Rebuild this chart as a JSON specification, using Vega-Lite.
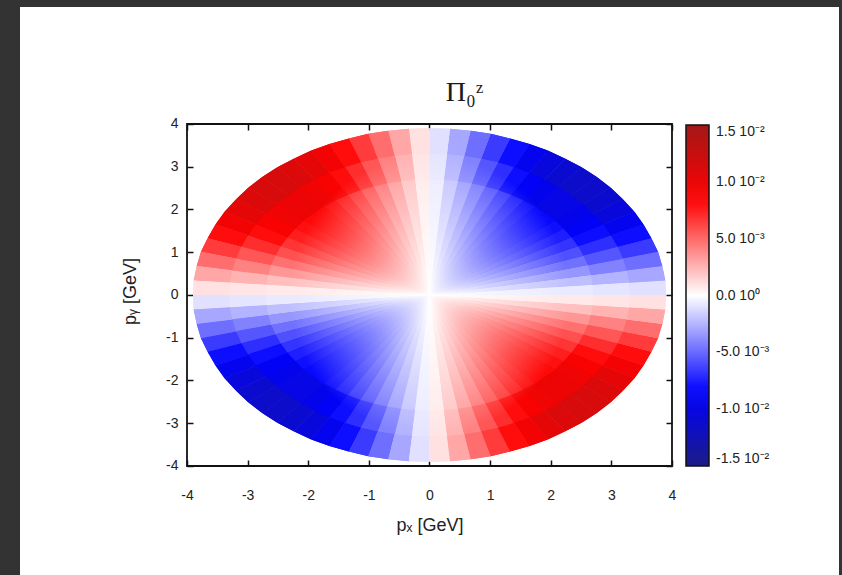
{
 "$schema": "https://vega.github.io/schema/vega-lite/v6.json",
 "width": 819, "height": 568,
 "autosize": {"type": "none"},
 "padding": {"left": 20, "top": 7, "right": 3, "bottom": 0},
 "background": "#333333",
 "config": {"view": {"fill": "white", "stroke": null}, "axis": {"grid": false}},
 "title": {"text": "Π₀ᶻ", "font": "Liberation Serif", "fontSize": 28, "fontWeight": "normal", "color": "#1a1a1a", "anchor": "middle", "frame": "group", "baseline": "alphabetic", "offset": -122, "dx": 35},
 "datasets": {
 "vals": [
{"w":0,"a":-0.00099,"b":-0.00086,"c":-0.00072},{"w":1,"a":-0.00295,"b":-0.00255,"c":-0.00214},{"w":2,"a":-0.00482,"b":-0.00416,"c":-0.0035},
{"w":3,"a":-0.00654,"b":-0.00564,"c":-0.00475},{"w":4,"a":-0.00806,"b":-0.00696,"c":-0.00585},{"w":5,"a":-0.00934,"b":-0.00806,"c":-0.00678},
{"w":6,"a":-0.01033,"b":-0.00892,"c":-0.0075},{"w":7,"a":-0.01101,"b":-0.0095,"c":-0.008},{"w":8,"a":-0.01136,"b":-0.0098,"c":-0.00825},
{"w":9,"a":-0.01136,"b":-0.0098,"c":-0.00825},{"w":10,"a":-0.01101,"b":-0.0095,"c":-0.008},{"w":11,"a":-0.01033,"b":-0.00892,"c":-0.0075},
{"w":12,"a":-0.00934,"b":-0.00806,"c":-0.00678},{"w":13,"a":-0.00806,"b":-0.00696,"c":-0.00585},{"w":14,"a":-0.00654,"b":-0.00564,"c":-0.00475},
{"w":15,"a":-0.00482,"b":-0.00416,"c":-0.0035},{"w":16,"a":-0.00295,"b":-0.00255,"c":-0.00214},{"w":17,"a":-0.00099,"b":-0.00086,"c":-0.00072},
{"w":18,"a":0.00099,"b":0.00086,"c":0.00072},{"w":19,"a":0.00295,"b":0.00255,"c":0.00214},{"w":20,"a":0.00482,"b":0.00416,"c":0.0035},
{"w":21,"a":0.00654,"b":0.00564,"c":0.00475},{"w":22,"a":0.00806,"b":0.00696,"c":0.00585},{"w":23,"a":0.00934,"b":0.00806,"c":0.00678},
{"w":24,"a":0.01033,"b":0.00892,"c":0.0075},{"w":25,"a":0.01101,"b":0.0095,"c":0.008},{"w":26,"a":0.01136,"b":0.0098,"c":0.00825},
{"w":27,"a":0.01136,"b":0.0098,"c":0.00825},{"w":28,"a":0.01101,"b":0.0095,"c":0.008},{"w":29,"a":0.01033,"b":0.00892,"c":0.0075},
{"w":30,"a":0.00934,"b":0.00806,"c":0.00678},{"w":31,"a":0.00806,"b":0.00696,"c":0.00585},{"w":32,"a":0.00654,"b":0.00564,"c":0.00475},
{"w":33,"a":0.00482,"b":0.00416,"c":0.0035},{"w":34,"a":0.00295,"b":0.00255,"c":0.00214},{"w":35,"a":0.00099,"b":0.00086,"c":0.00072},
{"w":36,"a":-0.00099,"b":-0.00086,"c":-0.00072},{"w":37,"a":-0.00295,"b":-0.00255,"c":-0.00214},{"w":38,"a":-0.00482,"b":-0.00416,"c":-0.0035},
{"w":39,"a":-0.00654,"b":-0.00564,"c":-0.00475},{"w":40,"a":-0.00806,"b":-0.00696,"c":-0.00585},{"w":41,"a":-0.00934,"b":-0.00806,"c":-0.00678},
{"w":42,"a":-0.01033,"b":-0.00892,"c":-0.0075},{"w":43,"a":-0.01101,"b":-0.0095,"c":-0.008},{"w":44,"a":-0.01136,"b":-0.0098,"c":-0.00825},
{"w":45,"a":-0.01136,"b":-0.0098,"c":-0.00825},{"w":46,"a":-0.01101,"b":-0.0095,"c":-0.008},{"w":47,"a":-0.01033,"b":-0.00892,"c":-0.0075},
{"w":48,"a":-0.00934,"b":-0.00806,"c":-0.00678},{"w":49,"a":-0.00806,"b":-0.00696,"c":-0.00585},{"w":50,"a":-0.00654,"b":-0.00564,"c":-0.00475},
{"w":51,"a":-0.00482,"b":-0.00416,"c":-0.0035},{"w":52,"a":-0.00295,"b":-0.00255,"c":-0.00214},{"w":53,"a":-0.00099,"b":-0.00086,"c":-0.00072},
{"w":54,"a":0.00099,"b":0.00086,"c":0.00072},{"w":55,"a":0.00295,"b":0.00255,"c":0.00214},{"w":56,"a":0.00482,"b":0.00416,"c":0.0035},
{"w":57,"a":0.00654,"b":0.00564,"c":0.00475},{"w":58,"a":0.00806,"b":0.00696,"c":0.00585},{"w":59,"a":0.00934,"b":0.00806,"c":0.00678},
{"w":60,"a":0.01033,"b":0.00892,"c":0.0075},{"w":61,"a":0.01101,"b":0.0095,"c":0.008},{"w":62,"a":0.01136,"b":0.0098,"c":0.00825},
{"w":63,"a":0.01136,"b":0.0098,"c":0.00825},{"w":64,"a":0.01101,"b":0.0095,"c":0.008},{"w":65,"a":0.01033,"b":0.00892,"c":0.0075},
{"w":66,"a":0.00934,"b":0.00806,"c":0.00678},{"w":67,"a":0.00806,"b":0.00696,"c":0.00585},{"w":68,"a":0.00654,"b":0.00564,"c":0.00475},
{"w":69,"a":0.00482,"b":0.00416,"c":0.0035},{"w":70,"a":0.00295,"b":0.00255,"c":0.00214},{"w":71,"a":0.00099,"b":0.00086,"c":0.00072}
 ],
 "verts": [
{"w":0,"L":0,"x":0,"y":0},{"w":1,"L":0,"x":0,"y":0},{"w":2,"L":0,"x":0,"y":0},{"w":3,"L":0,"x":0,"y":0},{"w":4,"L":0,"x":0,"y":0},{"w":5,"L":0,"x":0,"y":0},
{"w":6,"L":0,"x":0,"y":0},{"w":7,"L":0,"x":0,"y":0},{"w":8,"L":0,"x":0,"y":0},{"w":9,"L":0,"x":0,"y":0},{"w":10,"L":0,"x":0,"y":0},{"w":11,"L":0,"x":0,"y":0},
{"w":12,"L":0,"x":0,"y":0},{"w":13,"L":0,"x":0,"y":0},{"w":14,"L":0,"x":0,"y":0},{"w":15,"L":0,"x":0,"y":0},{"w":16,"L":0,"x":0,"y":0},{"w":17,"L":0,"x":0,"y":0},
{"w":18,"L":0,"x":0,"y":0},{"w":19,"L":0,"x":0,"y":0},{"w":20,"L":0,"x":0,"y":0},{"w":21,"L":0,"x":0,"y":0},{"w":22,"L":0,"x":0,"y":0},{"w":23,"L":0,"x":0,"y":0},
{"w":24,"L":0,"x":0,"y":0},{"w":25,"L":0,"x":0,"y":0},{"w":26,"L":0,"x":0,"y":0},{"w":27,"L":0,"x":0,"y":0},{"w":28,"L":0,"x":0,"y":0},{"w":29,"L":0,"x":0,"y":0},
{"w":30,"L":0,"x":0,"y":0},{"w":31,"L":0,"x":0,"y":0},{"w":32,"L":0,"x":0,"y":0},{"w":33,"L":0,"x":0,"y":0},{"w":34,"L":0,"x":0,"y":0},{"w":35,"L":0,"x":0,"y":0},
{"w":36,"L":0,"x":0,"y":0},{"w":37,"L":0,"x":0,"y":0},{"w":38,"L":0,"x":0,"y":0},{"w":39,"L":0,"x":0,"y":0},{"w":40,"L":0,"x":0,"y":0},{"w":41,"L":0,"x":0,"y":0},
{"w":42,"L":0,"x":0,"y":0},{"w":43,"L":0,"x":0,"y":0},{"w":44,"L":0,"x":0,"y":0},{"w":45,"L":0,"x":0,"y":0},{"w":46,"L":0,"x":0,"y":0},{"w":47,"L":0,"x":0,"y":0},
{"w":48,"L":0,"x":0,"y":0},{"w":49,"L":0,"x":0,"y":0},{"w":50,"L":0,"x":0,"y":0},{"w":51,"L":0,"x":0,"y":0},{"w":52,"L":0,"x":0,"y":0},{"w":53,"L":0,"x":0,"y":0},
{"w":54,"L":0,"x":0,"y":0},{"w":55,"L":0,"x":0,"y":0},{"w":56,"L":0,"x":0,"y":0},{"w":57,"L":0,"x":0,"y":0},{"w":58,"L":0,"x":0,"y":0},{"w":59,"L":0,"x":0,"y":0},
{"w":60,"L":0,"x":0,"y":0},{"w":61,"L":0,"x":0,"y":0},{"w":62,"L":0,"x":0,"y":0},{"w":63,"L":0,"x":0,"y":0},{"w":64,"L":0,"x":0,"y":0},{"w":65,"L":0,"x":0,"y":0},
{"w":66,"L":0,"x":0,"y":0},{"w":67,"L":0,"x":0,"y":0},{"w":68,"L":0,"x":0,"y":0},{"w":69,"L":0,"x":0,"y":0},{"w":70,"L":0,"x":0,"y":0},{"w":71,"L":0,"x":0,"y":0},
{"w":0,"L":1,"x":3.9,"y":0},{"w":0,"L":1,"x":3.89,"y":0.34},{"w":1,"L":1,"x":3.89,"y":0.34},{"w":1,"L":1,"x":3.84,"y":0.68},
{"w":2,"L":1,"x":3.84,"y":0.68},{"w":2,"L":1,"x":3.77,"y":1.01},{"w":3,"L":1,"x":3.77,"y":1.01},{"w":3,"L":1,"x":3.66,"y":1.33},
{"w":4,"L":1,"x":3.66,"y":1.33},{"w":4,"L":1,"x":3.53,"y":1.65},{"w":5,"L":1,"x":3.53,"y":1.65},{"w":5,"L":1,"x":3.38,"y":1.95},
{"w":6,"L":1,"x":3.38,"y":1.95},{"w":6,"L":1,"x":3.19,"y":2.24},{"w":7,"L":1,"x":3.19,"y":2.24},{"w":7,"L":1,"x":2.99,"y":2.51},
{"w":8,"L":1,"x":2.99,"y":2.51},{"w":8,"L":1,"x":2.76,"y":2.76},{"w":9,"L":1,"x":2.76,"y":2.76},{"w":9,"L":1,"x":2.51,"y":2.99},
{"w":10,"L":1,"x":2.51,"y":2.99},{"w":10,"L":1,"x":2.24,"y":3.19},{"w":11,"L":1,"x":2.24,"y":3.19},{"w":11,"L":1,"x":1.95,"y":3.38},
{"w":12,"L":1,"x":1.95,"y":3.38},{"w":12,"L":1,"x":1.65,"y":3.53},{"w":13,"L":1,"x":1.65,"y":3.53},{"w":13,"L":1,"x":1.33,"y":3.66},
{"w":14,"L":1,"x":1.33,"y":3.66},{"w":14,"L":1,"x":1.01,"y":3.77},{"w":15,"L":1,"x":1.01,"y":3.77},{"w":15,"L":1,"x":0.68,"y":3.84},
{"w":16,"L":1,"x":0.68,"y":3.84},{"w":16,"L":1,"x":0.34,"y":3.89},{"w":17,"L":1,"x":0.34,"y":3.89},{"w":17,"L":1,"x":0,"y":3.9},
{"w":18,"L":1,"x":0,"y":3.9},{"w":18,"L":1,"x":-0.34,"y":3.89},{"w":19,"L":1,"x":-0.34,"y":3.89},{"w":19,"L":1,"x":-0.68,"y":3.84},
{"w":20,"L":1,"x":-0.68,"y":3.84},{"w":20,"L":1,"x":-1.01,"y":3.77},{"w":21,"L":1,"x":-1.01,"y":3.77},{"w":21,"L":1,"x":-1.33,"y":3.66},
{"w":22,"L":1,"x":-1.33,"y":3.66},{"w":22,"L":1,"x":-1.65,"y":3.53},{"w":23,"L":1,"x":-1.65,"y":3.53},{"w":23,"L":1,"x":-1.95,"y":3.38},
{"w":24,"L":1,"x":-1.95,"y":3.38},{"w":24,"L":1,"x":-2.24,"y":3.19},{"w":25,"L":1,"x":-2.24,"y":3.19},{"w":25,"L":1,"x":-2.51,"y":2.99},
{"w":26,"L":1,"x":-2.51,"y":2.99},{"w":26,"L":1,"x":-2.76,"y":2.76},{"w":27,"L":1,"x":-2.76,"y":2.76},{"w":27,"L":1,"x":-2.99,"y":2.51},
{"w":28,"L":1,"x":-2.99,"y":2.51},{"w":28,"L":1,"x":-3.19,"y":2.24},{"w":29,"L":1,"x":-3.19,"y":2.24},{"w":29,"L":1,"x":-3.38,"y":1.95},
{"w":30,"L":1,"x":-3.38,"y":1.95},{"w":30,"L":1,"x":-3.53,"y":1.65},{"w":31,"L":1,"x":-3.53,"y":1.65},{"w":31,"L":1,"x":-3.66,"y":1.33},
{"w":32,"L":1,"x":-3.66,"y":1.33},{"w":32,"L":1,"x":-3.77,"y":1.01},{"w":33,"L":1,"x":-3.77,"y":1.01},{"w":33,"L":1,"x":-3.84,"y":0.68},
{"w":34,"L":1,"x":-3.84,"y":0.68},{"w":34,"L":1,"x":-3.89,"y":0.34},{"w":35,"L":1,"x":-3.89,"y":0.34},{"w":35,"L":1,"x":-3.9,"y":0},
{"w":36,"L":1,"x":-3.9,"y":0},{"w":36,"L":1,"x":-3.89,"y":-0.34},{"w":37,"L":1,"x":-3.89,"y":-0.34},{"w":37,"L":1,"x":-3.84,"y":-0.68},
{"w":38,"L":1,"x":-3.84,"y":-0.68},{"w":38,"L":1,"x":-3.77,"y":-1.01},{"w":39,"L":1,"x":-3.77,"y":-1.01},{"w":39,"L":1,"x":-3.66,"y":-1.33},
{"w":40,"L":1,"x":-3.66,"y":-1.33},{"w":40,"L":1,"x":-3.53,"y":-1.65},{"w":41,"L":1,"x":-3.53,"y":-1.65},{"w":41,"L":1,"x":-3.38,"y":-1.95},
{"w":42,"L":1,"x":-3.38,"y":-1.95},{"w":42,"L":1,"x":-3.19,"y":-2.24},{"w":43,"L":1,"x":-3.19,"y":-2.24},{"w":43,"L":1,"x":-2.99,"y":-2.51},
{"w":44,"L":1,"x":-2.99,"y":-2.51},{"w":44,"L":1,"x":-2.76,"y":-2.76},{"w":45,"L":1,"x":-2.76,"y":-2.76},{"w":45,"L":1,"x":-2.51,"y":-2.99},
{"w":46,"L":1,"x":-2.51,"y":-2.99},{"w":46,"L":1,"x":-2.24,"y":-3.19},{"w":47,"L":1,"x":-2.24,"y":-3.19},{"w":47,"L":1,"x":-1.95,"y":-3.38},
{"w":48,"L":1,"x":-1.95,"y":-3.38},{"w":48,"L":1,"x":-1.65,"y":-3.53},{"w":49,"L":1,"x":-1.65,"y":-3.53},{"w":49,"L":1,"x":-1.33,"y":-3.66},
{"w":50,"L":1,"x":-1.33,"y":-3.66},{"w":50,"L":1,"x":-1.01,"y":-3.77},{"w":51,"L":1,"x":-1.01,"y":-3.77},{"w":51,"L":1,"x":-0.68,"y":-3.84},
{"w":52,"L":1,"x":-0.68,"y":-3.84},{"w":52,"L":1,"x":-0.34,"y":-3.89},{"w":53,"L":1,"x":-0.34,"y":-3.89},{"w":53,"L":1,"x":0,"y":-3.9},
{"w":54,"L":1,"x":0,"y":-3.9},{"w":54,"L":1,"x":0.34,"y":-3.89},{"w":55,"L":1,"x":0.34,"y":-3.89},{"w":55,"L":1,"x":0.68,"y":-3.84},
{"w":56,"L":1,"x":0.68,"y":-3.84},{"w":56,"L":1,"x":1.01,"y":-3.77},{"w":57,"L":1,"x":1.01,"y":-3.77},{"w":57,"L":1,"x":1.33,"y":-3.66},
{"w":58,"L":1,"x":1.33,"y":-3.66},{"w":58,"L":1,"x":1.65,"y":-3.53},{"w":59,"L":1,"x":1.65,"y":-3.53},{"w":59,"L":1,"x":1.95,"y":-3.38},
{"w":60,"L":1,"x":1.95,"y":-3.38},{"w":60,"L":1,"x":2.24,"y":-3.19},{"w":61,"L":1,"x":2.24,"y":-3.19},{"w":61,"L":1,"x":2.51,"y":-2.99},
{"w":62,"L":1,"x":2.51,"y":-2.99},{"w":62,"L":1,"x":2.76,"y":-2.76},{"w":63,"L":1,"x":2.76,"y":-2.76},{"w":63,"L":1,"x":2.99,"y":-2.51},
{"w":64,"L":1,"x":2.99,"y":-2.51},{"w":64,"L":1,"x":3.19,"y":-2.24},{"w":65,"L":1,"x":3.19,"y":-2.24},{"w":65,"L":1,"x":3.38,"y":-1.95},
{"w":66,"L":1,"x":3.38,"y":-1.95},{"w":66,"L":1,"x":3.53,"y":-1.65},{"w":67,"L":1,"x":3.53,"y":-1.65},{"w":67,"L":1,"x":3.66,"y":-1.33},
{"w":68,"L":1,"x":3.66,"y":-1.33},{"w":68,"L":1,"x":3.77,"y":-1.01},{"w":69,"L":1,"x":3.77,"y":-1.01},{"w":69,"L":1,"x":3.84,"y":-0.68},
{"w":70,"L":1,"x":3.84,"y":-0.68},{"w":70,"L":1,"x":3.89,"y":-0.34},{"w":71,"L":1,"x":3.89,"y":-0.34},{"w":71,"L":1,"x":3.9,"y":0},
{"w":0,"L":2,"x":3.3,"y":0},{"w":0,"L":2,"x":3.29,"y":0.29},{"w":1,"L":2,"x":3.29,"y":0.29},{"w":1,"L":2,"x":3.25,"y":0.57},
{"w":2,"L":2,"x":3.25,"y":0.57},{"w":2,"L":2,"x":3.19,"y":0.85},{"w":3,"L":2,"x":3.19,"y":0.85},{"w":3,"L":2,"x":3.1,"y":1.13},
{"w":4,"L":2,"x":3.1,"y":1.13},{"w":4,"L":2,"x":2.99,"y":1.39},{"w":5,"L":2,"x":2.99,"y":1.39},{"w":5,"L":2,"x":2.86,"y":1.65},
{"w":6,"L":2,"x":2.86,"y":1.65},{"w":6,"L":2,"x":2.7,"y":1.89},{"w":7,"L":2,"x":2.7,"y":1.89},{"w":7,"L":2,"x":2.53,"y":2.12},
{"w":8,"L":2,"x":2.53,"y":2.12},{"w":8,"L":2,"x":2.33,"y":2.33},{"w":9,"L":2,"x":2.33,"y":2.33},{"w":9,"L":2,"x":2.12,"y":2.53},
{"w":10,"L":2,"x":2.12,"y":2.53},{"w":10,"L":2,"x":1.89,"y":2.7},{"w":11,"L":2,"x":1.89,"y":2.7},{"w":11,"L":2,"x":1.65,"y":2.86},
{"w":12,"L":2,"x":1.65,"y":2.86},{"w":12,"L":2,"x":1.39,"y":2.99},{"w":13,"L":2,"x":1.39,"y":2.99},{"w":13,"L":2,"x":1.13,"y":3.1},
{"w":14,"L":2,"x":1.13,"y":3.1},{"w":14,"L":2,"x":0.85,"y":3.19},{"w":15,"L":2,"x":0.85,"y":3.19},{"w":15,"L":2,"x":0.57,"y":3.25},
{"w":16,"L":2,"x":0.57,"y":3.25},{"w":16,"L":2,"x":0.29,"y":3.29},{"w":17,"L":2,"x":0.29,"y":3.29},{"w":17,"L":2,"x":0,"y":3.3},
{"w":18,"L":2,"x":0,"y":3.3},{"w":18,"L":2,"x":-0.29,"y":3.29},{"w":19,"L":2,"x":-0.29,"y":3.29},{"w":19,"L":2,"x":-0.57,"y":3.25},
{"w":20,"L":2,"x":-0.57,"y":3.25},{"w":20,"L":2,"x":-0.85,"y":3.19},{"w":21,"L":2,"x":-0.85,"y":3.19},{"w":21,"L":2,"x":-1.13,"y":3.1},
{"w":22,"L":2,"x":-1.13,"y":3.1},{"w":22,"L":2,"x":-1.39,"y":2.99},{"w":23,"L":2,"x":-1.39,"y":2.99},{"w":23,"L":2,"x":-1.65,"y":2.86},
{"w":24,"L":2,"x":-1.65,"y":2.86},{"w":24,"L":2,"x":-1.89,"y":2.7},{"w":25,"L":2,"x":-1.89,"y":2.7},{"w":25,"L":2,"x":-2.12,"y":2.53},
{"w":26,"L":2,"x":-2.12,"y":2.53},{"w":26,"L":2,"x":-2.33,"y":2.33},{"w":27,"L":2,"x":-2.33,"y":2.33},{"w":27,"L":2,"x":-2.53,"y":2.12},
{"w":28,"L":2,"x":-2.53,"y":2.12},{"w":28,"L":2,"x":-2.7,"y":1.89},{"w":29,"L":2,"x":-2.7,"y":1.89},{"w":29,"L":2,"x":-2.86,"y":1.65},
{"w":30,"L":2,"x":-2.86,"y":1.65},{"w":30,"L":2,"x":-2.99,"y":1.39},{"w":31,"L":2,"x":-2.99,"y":1.39},{"w":31,"L":2,"x":-3.1,"y":1.13},
{"w":32,"L":2,"x":-3.1,"y":1.13},{"w":32,"L":2,"x":-3.19,"y":0.85},{"w":33,"L":2,"x":-3.19,"y":0.85},{"w":33,"L":2,"x":-3.25,"y":0.57},
{"w":34,"L":2,"x":-3.25,"y":0.57},{"w":34,"L":2,"x":-3.29,"y":0.29},{"w":35,"L":2,"x":-3.29,"y":0.29},{"w":35,"L":2,"x":-3.3,"y":0},
{"w":36,"L":2,"x":-3.3,"y":0},{"w":36,"L":2,"x":-3.29,"y":-0.29},{"w":37,"L":2,"x":-3.29,"y":-0.29},{"w":37,"L":2,"x":-3.25,"y":-0.57},
{"w":38,"L":2,"x":-3.25,"y":-0.57},{"w":38,"L":2,"x":-3.19,"y":-0.85},{"w":39,"L":2,"x":-3.19,"y":-0.85},{"w":39,"L":2,"x":-3.1,"y":-1.13},
{"w":40,"L":2,"x":-3.1,"y":-1.13},{"w":40,"L":2,"x":-2.99,"y":-1.39},{"w":41,"L":2,"x":-2.99,"y":-1.39},{"w":41,"L":2,"x":-2.86,"y":-1.65},
{"w":42,"L":2,"x":-2.86,"y":-1.65},{"w":42,"L":2,"x":-2.7,"y":-1.89},{"w":43,"L":2,"x":-2.7,"y":-1.89},{"w":43,"L":2,"x":-2.53,"y":-2.12},
{"w":44,"L":2,"x":-2.53,"y":-2.12},{"w":44,"L":2,"x":-2.33,"y":-2.33},{"w":45,"L":2,"x":-2.33,"y":-2.33},{"w":45,"L":2,"x":-2.12,"y":-2.53},
{"w":46,"L":2,"x":-2.12,"y":-2.53},{"w":46,"L":2,"x":-1.89,"y":-2.7},{"w":47,"L":2,"x":-1.89,"y":-2.7},{"w":47,"L":2,"x":-1.65,"y":-2.86},
{"w":48,"L":2,"x":-1.65,"y":-2.86},{"w":48,"L":2,"x":-1.39,"y":-2.99},{"w":49,"L":2,"x":-1.39,"y":-2.99},{"w":49,"L":2,"x":-1.13,"y":-3.1},
{"w":50,"L":2,"x":-1.13,"y":-3.1},{"w":50,"L":2,"x":-0.85,"y":-3.19},{"w":51,"L":2,"x":-0.85,"y":-3.19},{"w":51,"L":2,"x":-0.57,"y":-3.25},
{"w":52,"L":2,"x":-0.57,"y":-3.25},{"w":52,"L":2,"x":-0.29,"y":-3.29},{"w":53,"L":2,"x":-0.29,"y":-3.29},{"w":53,"L":2,"x":0,"y":-3.3},
{"w":54,"L":2,"x":0,"y":-3.3},{"w":54,"L":2,"x":0.29,"y":-3.29},{"w":55,"L":2,"x":0.29,"y":-3.29},{"w":55,"L":2,"x":0.57,"y":-3.25},
{"w":56,"L":2,"x":0.57,"y":-3.25},{"w":56,"L":2,"x":0.85,"y":-3.19},{"w":57,"L":2,"x":0.85,"y":-3.19},{"w":57,"L":2,"x":1.13,"y":-3.1},
{"w":58,"L":2,"x":1.13,"y":-3.1},{"w":58,"L":2,"x":1.39,"y":-2.99},{"w":59,"L":2,"x":1.39,"y":-2.99},{"w":59,"L":2,"x":1.65,"y":-2.86},
{"w":60,"L":2,"x":1.65,"y":-2.86},{"w":60,"L":2,"x":1.89,"y":-2.7},{"w":61,"L":2,"x":1.89,"y":-2.7},{"w":61,"L":2,"x":2.12,"y":-2.53},
{"w":62,"L":2,"x":2.12,"y":-2.53},{"w":62,"L":2,"x":2.33,"y":-2.33},{"w":63,"L":2,"x":2.33,"y":-2.33},{"w":63,"L":2,"x":2.53,"y":-2.12},
{"w":64,"L":2,"x":2.53,"y":-2.12},{"w":64,"L":2,"x":2.7,"y":-1.89},{"w":65,"L":2,"x":2.7,"y":-1.89},{"w":65,"L":2,"x":2.86,"y":-1.65},
{"w":66,"L":2,"x":2.86,"y":-1.65},{"w":66,"L":2,"x":2.99,"y":-1.39},{"w":67,"L":2,"x":2.99,"y":-1.39},{"w":67,"L":2,"x":3.1,"y":-1.13},
{"w":68,"L":2,"x":3.1,"y":-1.13},{"w":68,"L":2,"x":3.19,"y":-0.85},{"w":69,"L":2,"x":3.19,"y":-0.85},{"w":69,"L":2,"x":3.25,"y":-0.57},
{"w":70,"L":2,"x":3.25,"y":-0.57},{"w":70,"L":2,"x":3.29,"y":-0.29},{"w":71,"L":2,"x":3.29,"y":-0.29},{"w":71,"L":2,"x":3.3,"y":0},
{"w":0,"L":3,"x":2.7,"y":0},{"w":0,"L":3,"x":2.69,"y":0.24},{"w":1,"L":3,"x":2.69,"y":0.24},{"w":1,"L":3,"x":2.66,"y":0.47},
{"w":2,"L":3,"x":2.66,"y":0.47},{"w":2,"L":3,"x":2.61,"y":0.7},{"w":3,"L":3,"x":2.61,"y":0.7},{"w":3,"L":3,"x":2.54,"y":0.92},
{"w":4,"L":3,"x":2.54,"y":0.92},{"w":4,"L":3,"x":2.45,"y":1.14},{"w":5,"L":3,"x":2.45,"y":1.14},{"w":5,"L":3,"x":2.34,"y":1.35},
{"w":6,"L":3,"x":2.34,"y":1.35},{"w":6,"L":3,"x":2.21,"y":1.55},{"w":7,"L":3,"x":2.21,"y":1.55},{"w":7,"L":3,"x":2.07,"y":1.74},
{"w":8,"L":3,"x":2.07,"y":1.74},{"w":8,"L":3,"x":1.91,"y":1.91},{"w":9,"L":3,"x":1.91,"y":1.91},{"w":9,"L":3,"x":1.74,"y":2.07},
{"w":10,"L":3,"x":1.74,"y":2.07},{"w":10,"L":3,"x":1.55,"y":2.21},{"w":11,"L":3,"x":1.55,"y":2.21},{"w":11,"L":3,"x":1.35,"y":2.34},
{"w":12,"L":3,"x":1.35,"y":2.34},{"w":12,"L":3,"x":1.14,"y":2.45},{"w":13,"L":3,"x":1.14,"y":2.45},{"w":13,"L":3,"x":0.92,"y":2.54},
{"w":14,"L":3,"x":0.92,"y":2.54},{"w":14,"L":3,"x":0.7,"y":2.61},{"w":15,"L":3,"x":0.7,"y":2.61},{"w":15,"L":3,"x":0.47,"y":2.66},
{"w":16,"L":3,"x":0.47,"y":2.66},{"w":16,"L":3,"x":0.24,"y":2.69},{"w":17,"L":3,"x":0.24,"y":2.69},{"w":17,"L":3,"x":0,"y":2.7},
{"w":18,"L":3,"x":0,"y":2.7},{"w":18,"L":3,"x":-0.24,"y":2.69},{"w":19,"L":3,"x":-0.24,"y":2.69},{"w":19,"L":3,"x":-0.47,"y":2.66},
{"w":20,"L":3,"x":-0.47,"y":2.66},{"w":20,"L":3,"x":-0.7,"y":2.61},{"w":21,"L":3,"x":-0.7,"y":2.61},{"w":21,"L":3,"x":-0.92,"y":2.54},
{"w":22,"L":3,"x":-0.92,"y":2.54},{"w":22,"L":3,"x":-1.14,"y":2.45},{"w":23,"L":3,"x":-1.14,"y":2.45},{"w":23,"L":3,"x":-1.35,"y":2.34},
{"w":24,"L":3,"x":-1.35,"y":2.34},{"w":24,"L":3,"x":-1.55,"y":2.21},{"w":25,"L":3,"x":-1.55,"y":2.21},{"w":25,"L":3,"x":-1.74,"y":2.07},
{"w":26,"L":3,"x":-1.74,"y":2.07},{"w":26,"L":3,"x":-1.91,"y":1.91},{"w":27,"L":3,"x":-1.91,"y":1.91},{"w":27,"L":3,"x":-2.07,"y":1.74},
{"w":28,"L":3,"x":-2.07,"y":1.74},{"w":28,"L":3,"x":-2.21,"y":1.55},{"w":29,"L":3,"x":-2.21,"y":1.55},{"w":29,"L":3,"x":-2.34,"y":1.35},
{"w":30,"L":3,"x":-2.34,"y":1.35},{"w":30,"L":3,"x":-2.45,"y":1.14},{"w":31,"L":3,"x":-2.45,"y":1.14},{"w":31,"L":3,"x":-2.54,"y":0.92},
{"w":32,"L":3,"x":-2.54,"y":0.92},{"w":32,"L":3,"x":-2.61,"y":0.7},{"w":33,"L":3,"x":-2.61,"y":0.7},{"w":33,"L":3,"x":-2.66,"y":0.47},
{"w":34,"L":3,"x":-2.66,"y":0.47},{"w":34,"L":3,"x":-2.69,"y":0.24},{"w":35,"L":3,"x":-2.69,"y":0.24},{"w":35,"L":3,"x":-2.7,"y":0},
{"w":36,"L":3,"x":-2.7,"y":0},{"w":36,"L":3,"x":-2.69,"y":-0.24},{"w":37,"L":3,"x":-2.69,"y":-0.24},{"w":37,"L":3,"x":-2.66,"y":-0.47},
{"w":38,"L":3,"x":-2.66,"y":-0.47},{"w":38,"L":3,"x":-2.61,"y":-0.7},{"w":39,"L":3,"x":-2.61,"y":-0.7},{"w":39,"L":3,"x":-2.54,"y":-0.92},
{"w":40,"L":3,"x":-2.54,"y":-0.92},{"w":40,"L":3,"x":-2.45,"y":-1.14},{"w":41,"L":3,"x":-2.45,"y":-1.14},{"w":41,"L":3,"x":-2.34,"y":-1.35},
{"w":42,"L":3,"x":-2.34,"y":-1.35},{"w":42,"L":3,"x":-2.21,"y":-1.55},{"w":43,"L":3,"x":-2.21,"y":-1.55},{"w":43,"L":3,"x":-2.07,"y":-1.74},
{"w":44,"L":3,"x":-2.07,"y":-1.74},{"w":44,"L":3,"x":-1.91,"y":-1.91},{"w":45,"L":3,"x":-1.91,"y":-1.91},{"w":45,"L":3,"x":-1.74,"y":-2.07},
{"w":46,"L":3,"x":-1.74,"y":-2.07},{"w":46,"L":3,"x":-1.55,"y":-2.21},{"w":47,"L":3,"x":-1.55,"y":-2.21},{"w":47,"L":3,"x":-1.35,"y":-2.34},
{"w":48,"L":3,"x":-1.35,"y":-2.34},{"w":48,"L":3,"x":-1.14,"y":-2.45},{"w":49,"L":3,"x":-1.14,"y":-2.45},{"w":49,"L":3,"x":-0.92,"y":-2.54},
{"w":50,"L":3,"x":-0.92,"y":-2.54},{"w":50,"L":3,"x":-0.7,"y":-2.61},{"w":51,"L":3,"x":-0.7,"y":-2.61},{"w":51,"L":3,"x":-0.47,"y":-2.66},
{"w":52,"L":3,"x":-0.47,"y":-2.66},{"w":52,"L":3,"x":-0.24,"y":-2.69},{"w":53,"L":3,"x":-0.24,"y":-2.69},{"w":53,"L":3,"x":0,"y":-2.7},
{"w":54,"L":3,"x":0,"y":-2.7},{"w":54,"L":3,"x":0.24,"y":-2.69},{"w":55,"L":3,"x":0.24,"y":-2.69},{"w":55,"L":3,"x":0.47,"y":-2.66},
{"w":56,"L":3,"x":0.47,"y":-2.66},{"w":56,"L":3,"x":0.7,"y":-2.61},{"w":57,"L":3,"x":0.7,"y":-2.61},{"w":57,"L":3,"x":0.92,"y":-2.54},
{"w":58,"L":3,"x":0.92,"y":-2.54},{"w":58,"L":3,"x":1.14,"y":-2.45},{"w":59,"L":3,"x":1.14,"y":-2.45},{"w":59,"L":3,"x":1.35,"y":-2.34},
{"w":60,"L":3,"x":1.35,"y":-2.34},{"w":60,"L":3,"x":1.55,"y":-2.21},{"w":61,"L":3,"x":1.55,"y":-2.21},{"w":61,"L":3,"x":1.74,"y":-2.07},
{"w":62,"L":3,"x":1.74,"y":-2.07},{"w":62,"L":3,"x":1.91,"y":-1.91},{"w":63,"L":3,"x":1.91,"y":-1.91},{"w":63,"L":3,"x":2.07,"y":-1.74},
{"w":64,"L":3,"x":2.07,"y":-1.74},{"w":64,"L":3,"x":2.21,"y":-1.55},{"w":65,"L":3,"x":2.21,"y":-1.55},{"w":65,"L":3,"x":2.34,"y":-1.35},
{"w":66,"L":3,"x":2.34,"y":-1.35},{"w":66,"L":3,"x":2.45,"y":-1.14},{"w":67,"L":3,"x":2.45,"y":-1.14},{"w":67,"L":3,"x":2.54,"y":-0.92},
{"w":68,"L":3,"x":2.54,"y":-0.92},{"w":68,"L":3,"x":2.61,"y":-0.7},{"w":69,"L":3,"x":2.61,"y":-0.7},{"w":69,"L":3,"x":2.66,"y":-0.47},
{"w":70,"L":3,"x":2.66,"y":-0.47},{"w":70,"L":3,"x":2.69,"y":-0.24},{"w":71,"L":3,"x":2.69,"y":-0.24},{"w":71,"L":3,"x":2.7,"y":0}
 ]},
 "layer": [
  {
   "data": {"name": "verts"},
   "transform": [{"filter": {"field": "L", "oneOf": [0, 1]}}, {"lookup": "w", "from": {"data": {"name": "vals"}, "key": "w", "fields": ["a"]}, "as": ["v"]}],
   "mark": {"type": "line", "filled": true, "interpolate": "linear-closed"},
   "encoding": {
    "x": {"field": "x", "type": "quantitative", "scale": {"domain": [-6.7546, 6.7547], "nice": false, "zero": false},
          "axis": {"orient": "bottom", "offset": -109, "values": [-4,-3,-2,-1,0,1,2,3,4], "domain": false, "grid": false, "tickSize": -6, "tickColor": "#111111", "tickWidth": 1.5, "labelPadding": 28, "labelFlush": false, "labelOverlap": false, "labelExpr": "'' + datum.value", "labelFont": "Liberation Sans", "labelFontSize": 14, "labelColor": "#222222", "title": "pₓ [GeV]", "titleFont": "Liberation Sans", "titleFontSize": 18, "titleFontWeight": "normal", "titleColor": "#222222", "titlePadding": 14}},
    "y": {"field": "y", "type": "quantitative", "scale": {"domain": [-6.5497, 6.7368], "nice": false, "zero": false},
          "axis": {"orient": "left", "offset": -167, "values": [-4,-3,-2,-1,0,1,2,3,4], "domain": false, "grid": false, "tickSize": -6, "tickColor": "#111111", "tickWidth": 1.5, "labelPadding": 15, "labelFlush": false, "labelOverlap": false, "labelExpr": "'' + datum.value", "labelFont": "Liberation Sans", "labelFontSize": 14, "labelColor": "#222222", "title": "pᵧ [GeV]", "titleFont": "Liberation Sans", "titleFontSize": 18, "titleFontWeight": "normal", "titleColor": "#222222", "titlePadding": 26}},
    "detail": {"field": "w", "type": "nominal"},
    "color": {"field": "v", "type": "quantitative",
      "scale": {"domain": [-0.015, -0.0085, 0, 0.0085, 0.015], "range": ["#1c1c86", "#0000ff", "#ffffff", "#ff0000", "#a31818"], "interpolate": "rgb"},
      "legend": {"type": "gradient", "orient": "none", "legendX": 666, "legendY": 118, "direction": "vertical", "title": null, "padding": 0,
        "gradientLength": 341, "gradientThickness": 23, "gradientStrokeColor": "#111111", "gradientStrokeWidth": 1.5,
        "values": [-0.015, -0.01, -0.005, 0, 0.005, 0.01, 0.015], "labelOverlap": false, "labelOffset": 7,
        "labelFont": "Liberation Sans", "labelFontSize": 14, "labelColor": "#222222", "labelBaseline": "middle",
        "labelExpr": "datum.value > 0.012 ? '1.5 10⁻²' : datum.value > 0.007 ? '1.0 10⁻²' : datum.value > 0.002 ? '5.0 10⁻³' : datum.value > -0.002 ? '0.0 10⁰' : datum.value > -0.007 ? '-5.0 10⁻³' : datum.value > -0.012 ? '-1.0 10⁻²' : '-1.5 10⁻²'"}}
   }
  },
  {
   "data": {"name": "verts"},
   "transform": [{"filter": {"field": "L", "oneOf": [0, 1]}}, {"lookup": "w", "from": {"data": {"name": "vals"}, "key": "w", "fields": ["a"]}, "as": ["v"]}],
   "mark": {"type": "line", "filled": true, "interpolate": "linear-closed"},
   "encoding": {
    "x": {"field": "x", "type": "quantitative", "scale": {"domain": [-6.7546, 6.7547], "nice": false, "zero": false}, "axis": null},
    "y": {"field": "y", "type": "quantitative", "scale": {"domain": [-6.5497, 6.7368], "nice": false, "zero": false}, "axis": null},
    "detail": {"field": "w", "type": "nominal"},
    "color": {"field": "v", "type": "quantitative", "scale": {"domain": [-0.015, -0.0085, 0, 0.0085, 0.015], "range": ["#1c1c86", "#0000ff", "#ffffff", "#ff0000", "#a31818"], "interpolate": "rgb"}}
   }
  },
  {
   "data": {"name": "verts"},
   "transform": [{"filter": {"field": "L", "oneOf": [0, 2]}}, {"lookup": "w", "from": {"data": {"name": "vals"}, "key": "w", "fields": ["b"]}, "as": ["v"]}],
   "mark": {"type": "line", "filled": true, "interpolate": "linear-closed"},
   "encoding": {
    "x": {"field": "x", "type": "quantitative", "scale": {"domain": [-6.7546, 6.7547], "nice": false, "zero": false}, "axis": null},
    "y": {"field": "y", "type": "quantitative", "scale": {"domain": [-6.5497, 6.7368], "nice": false, "zero": false}, "axis": null},
    "detail": {"field": "w", "type": "nominal"},
    "color": {"field": "v", "type": "quantitative", "scale": {"domain": [-0.015, -0.0085, 0, 0.0085, 0.015], "range": ["#1c1c86", "#0000ff", "#ffffff", "#ff0000", "#a31818"], "interpolate": "rgb"}}
   }
  },
  {
   "data": {"name": "verts"},
   "transform": [{"filter": {"field": "L", "oneOf": [0, 2]}}, {"lookup": "w", "from": {"data": {"name": "vals"}, "key": "w", "fields": ["b"]}, "as": ["v"]}],
   "mark": {"type": "line", "filled": true, "interpolate": "linear-closed"},
   "encoding": {
    "x": {"field": "x", "type": "quantitative", "scale": {"domain": [-6.7546, 6.7547], "nice": false, "zero": false}, "axis": null},
    "y": {"field": "y", "type": "quantitative", "scale": {"domain": [-6.5497, 6.7368], "nice": false, "zero": false}, "axis": null},
    "detail": {"field": "w", "type": "nominal"},
    "color": {"field": "v", "type": "quantitative", "scale": {"domain": [-0.015, -0.0085, 0, 0.0085, 0.015], "range": ["#1c1c86", "#0000ff", "#ffffff", "#ff0000", "#a31818"], "interpolate": "rgb"}}
   }
  },
  {
   "data": {"name": "verts"},
   "transform": [{"filter": {"field": "L", "oneOf": [0, 3]}}, {"lookup": "w", "from": {"data": {"name": "vals"}, "key": "w", "fields": ["c"]}, "as": ["v"]}],
   "mark": {"type": "line", "filled": true, "interpolate": "linear-closed"},
   "encoding": {
    "x": {"field": "x", "type": "quantitative", "scale": {"domain": [-6.7546, 6.7547], "nice": false, "zero": false}, "axis": null},
    "y": {"field": "y", "type": "quantitative", "scale": {"domain": [-6.5497, 6.7368], "nice": false, "zero": false}, "axis": null},
    "detail": {"field": "w", "type": "nominal"},
    "color": {"field": "v", "type": "quantitative", "scale": {"domain": [-0.015, -0.0085, 0, 0.0085, 0.015], "range": ["#1c1c86", "#0000ff", "#ffffff", "#ff0000", "#a31818"], "interpolate": "rgb"}}
   }
  },
  {
   "data": {"values": [{}]},
   "mark": {"type": "rect", "fill": {"gradient": "radial", "x1": 0.5, "y1": 0.5, "r1": 0, "x2": 0.5, "y2": 0.5, "r2": 0.296,
      "stops": [{"offset": 0, "color": "rgba(255,255,255,1)"}, {"offset": 0.5, "color": "rgba(255,255,255,0.5)"}, {"offset": 1, "color": "rgba(255,255,255,0)"}]}},
   "encoding": {
    "x": {"datum": -3.9, "type": "quantitative", "scale": {"domain": [-6.7546, 6.7547], "nice": false, "zero": false}, "axis": null},
    "x2": {"datum": 3.9},
    "y": {"datum": -3.9, "type": "quantitative", "scale": {"domain": [-6.5497, 6.7368], "nice": false, "zero": false}, "axis": null},
    "y2": {"datum": 3.9}
   }
  },
  {
   "data": {"values": [{}]},
   "mark": {"type": "rect", "fill": "transparent", "stroke": "#111111", "strokeWidth": 1.8},
   "encoding": {
    "x": {"datum": -4, "type": "quantitative", "scale": {"domain": [-6.7546, 6.7547], "nice": false, "zero": false},
          "axis": {"orient": "top", "offset": -117, "values": [-4,-3,-2,-1,0,1,2,3,4], "domain": false, "grid": false, "tickSize": -6, "tickColor": "#111111", "tickWidth": 1.5, "labels": false, "title": null}},
    "x2": {"datum": 4},
    "y": {"datum": -4, "type": "quantitative", "scale": {"domain": [-6.5497, 6.7368], "nice": false, "zero": false},
          "axis": {"orient": "right", "offset": -167, "values": [-4,-3,-2,-1,0,1,2,3,4], "domain": false, "grid": false, "tickSize": -6, "tickColor": "#111111", "tickWidth": 1.5, "labels": false, "title": null}},
    "y2": {"datum": 4}
   }
  }
 ],
 "resolve": {"axis": {"x": "independent", "y": "independent"}}
}
